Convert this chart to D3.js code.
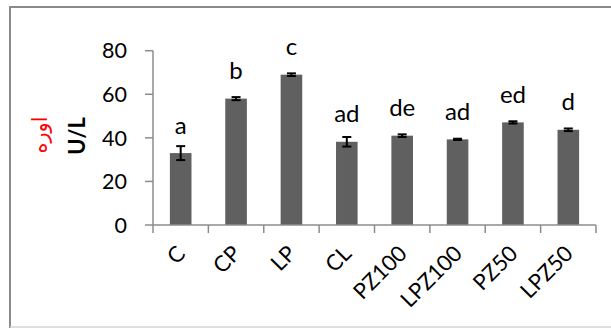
<!DOCTYPE html>
<html><head><meta charset="utf-8">
<script src="https://cdn.jsdelivr.net/npm/d3@7/dist/d3.min.js"></script>
<style>body{margin:0;background:#fff;} svg{display:block;}</style>
</head><body>
<svg id="c" width="611" height="328"></svg>
<script>
const categories = ["C","CP","LP","CL","PZ100","LPZ100","PZ50","LPZ50"];
const values = [33, 58, 69, 38.2, 41, 39.3, 47.1, 43.7];
const errors = [3.2, 0.7, 0.6, 2.2, 0.6, 0.3, 0.5, 0.6];
const letters = ["a","b","c","ad","de","ad","ed","d"];
const yTicks = [0, 20, 40, 60, 80];
const yTitle = "U/L";
const yTitleAr = "اوره";

const svg = d3.select("#c");
const font = "Lato, 'Open Sans', sans-serif";

// frame
svg.append("line").attr("x1",10).attr("x2",611).attr("y1",7).attr("y2",7).attr("stroke","#8a8a8a").attr("stroke-width",2);
svg.append("line").attr("x1",10).attr("x2",10).attr("y1",6).attr("y2",328).attr("stroke","#8a8a8a").attr("stroke-width",2);
svg.append("line").attr("x1",10).attr("x2",611).attr("y1",327).attr("y2",327).attr("stroke","#d4d4d4").attr("stroke-width",1.5);

const x0 = 153, x1 = 596, yTop = 50.7, yBot = 225;
const x = d3.scaleBand().domain(categories).range([x0, x1]).paddingInner(0.61).paddingOuter(0.305);
const xb = d3.scaleBand().domain(categories).range([x0, x1]);
const y = d3.scaleLinear().domain([0, 80]).range([yBot, yTop]);

const axisColor = "#8c8c8c";
// y axis
svg.append("line").attr("x1",x0).attr("x2",x0).attr("y1",y(80)).attr("y2",y(0)).attr("stroke",axisColor).attr("stroke-width",1.5);
svg.selectAll(".yt").data(yTicks).enter().append("line")
  .attr("x1",x0-8).attr("x2",x0).attr("y1",d=>y(d)).attr("y2",d=>y(d)).attr("stroke",axisColor).attr("stroke-width",1.5);
svg.selectAll(".yl").data(yTicks).enter().append("text")
  .attr("x",x0-26).attr("y",d=>y(d)).attr("dy","0.36em").attr("text-anchor","end")
  .attr("font-family",font).attr("font-size",21.5).attr("fill","#000").text(d=>d);

// bars
svg.selectAll(".bar").data(values).enter().append("rect")
  .attr("x",(d,i)=>x(categories[i])).attr("width",x.bandwidth())
  .attr("y",d=>y(d)).attr("height",d=>y(0)-y(d)).attr("fill","#606060");

// x axis
svg.append("line").attr("x1",x0).attr("x2",x1).attr("y1",yBot).attr("y2",yBot).attr("stroke",axisColor).attr("stroke-width",1.5);
const bounds = categories.map(c=>xb(c)).concat([x1]);
svg.selectAll(".xt").data(bounds).enter().append("line")
  .attr("x1",d=>d).attr("x2",d=>d).attr("y1",yBot).attr("y2",yBot+8).attr("stroke",axisColor).attr("stroke-width",1.5);

// error bars
const eb = svg.append("g").attr("stroke","#000").attr("stroke-width",2);
values.forEach((v,i)=>{
  const cx = x(categories[i]) + x.bandwidth()/2;
  eb.append("line").attr("x1",cx).attr("x2",cx).attr("y1",y(v+errors[i])).attr("y2",y(v-errors[i]));
  eb.append("line").attr("x1",cx-4.5).attr("x2",cx+4.5).attr("y1",y(v+errors[i])).attr("y2",y(v+errors[i]));
  eb.append("line").attr("x1",cx-4.5).attr("x2",cx+4.5).attr("y1",y(v-errors[i])).attr("y2",y(v-errors[i]));
});

// letters
svg.selectAll(".lt").data(letters).enter().append("text")
  .attr("x",(d,i)=>x(categories[i]) + x.bandwidth()/2)
  .attr("y",(d,i)=>y(values[i]) - 19.5)
  .attr("text-anchor","middle").attr("font-family",font).attr("font-size",24).attr("fill","#000").text(d=>d);

// x labels
svg.selectAll(".xl").data(categories).enter().append("text")
  .attr("transform",d=>`translate(${xb(d)+xb.bandwidth()/2},249) rotate(-45)`)
  .attr("text-anchor","end").attr("dominant-baseline","central")
  .attr("font-family",font).attr("font-size",22).attr("fill","#000").text(d=>d);

// y titles
svg.append("text").attr("transform","translate(76,136) rotate(-90)")
  .attr("text-anchor","middle").attr("dominant-baseline","central")
  .attr("font-family",font).attr("font-weight","bold").attr("font-size",22).attr("fill","#000").text(yTitle);
svg.append("text").attr("transform","translate(40,135) rotate(-90)")
  .attr("text-anchor","middle").attr("dominant-baseline","central")
  .attr("font-family","'DejaVu Sans', sans-serif").attr("font-weight","normal").attr("font-size",21).attr("fill","#ff0000").text(yTitleAr);
</script>
</body></html>
